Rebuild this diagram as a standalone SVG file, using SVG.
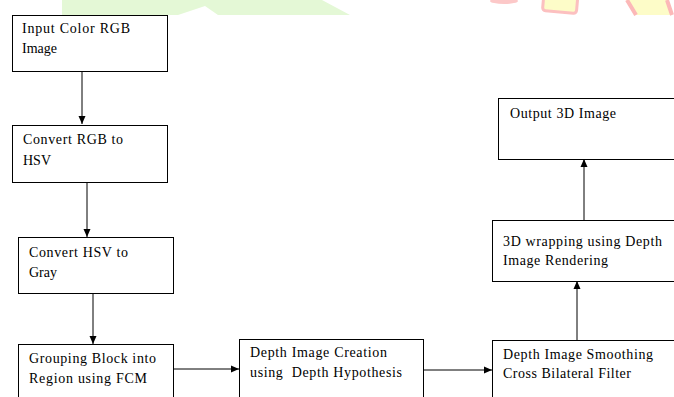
<svg xmlns="http://www.w3.org/2000/svg" width="674" height="397" viewBox="0 0 674 397">
<style>
.box{fill:#fff;stroke:#000;stroke-width:1}
.t{font-family:'Liberation Serif','Times New Roman',serif;font-size:14px;fill:#000}
.c{stroke:#000;stroke-width:1;fill:none}
</style>
<defs>
<marker id="ah" viewBox="0 0 8 8" refX="8" refY="4" markerWidth="8" markerHeight="8" markerUnits="userSpaceOnUse" orient="auto">
<path d="M0,0.5 L8,4 L0,7.5 z" fill="#000"/>
</marker>
</defs>
<rect width="674" height="397" fill="#fff"/>
<g id="watermark">
<polygon points="62,0 322,0 350,15 218,15 205,6 178,15 62,15" fill="#e4f8d6"/>
<ellipse cx="504" cy="1" rx="14" ry="3" fill="#fcc8c8"/>
<rect x="543" y="-4" width="34" height="16" rx="3" fill="#fdfcc8" stroke="#fcc0c0" stroke-width="3" transform="rotate(5 560 5)"/>
<polygon points="626,0 667,0 672,15 636,15" fill="#fdfcc8"/>
<path d="M627,0 L636,15 M667,0 L672,15" stroke="#fcb8b8" stroke-width="4" fill="none"/>
</g>
<g id="connectors">
<line class="c" x1="82" y1="71" x2="82" y2="124" marker-end="url(#ah)"/>
<line class="c" x1="87" y1="182" x2="87" y2="237" marker-end="url(#ah)"/>
<line class="c" x1="93" y1="293" x2="93" y2="344" marker-end="url(#ah)"/>
<line class="c" x1="173" y1="369" x2="239" y2="369" marker-end="url(#ah)"/>
<line class="c" x1="423" y1="370" x2="492" y2="370" marker-end="url(#ah)"/>
<line class="c" x1="577" y1="340" x2="577" y2="281" marker-end="url(#ah)"/>
<line class="c" x1="584" y1="220" x2="584" y2="159" marker-end="url(#ah)"/>
</g>
<g id="n1"><rect class="box" x="12.5" y="15.5" width="155" height="56"/>
<text class="t" x="22" y="33" textLength="108" lengthAdjust="spacing">Input Color RGB</text>
<text class="t" x="22" y="53">Image</text></g>
<g id="n2"><rect class="box" x="12.5" y="125.5" width="155" height="57"/>
<text class="t" x="23" y="144" textLength="100" lengthAdjust="spacing">Convert RGB to</text>
<text class="t" x="23" y="165">HSV</text></g>
<g id="n3"><rect class="box" x="18.5" y="237.5" width="155" height="56"/>
<text class="t" x="29" y="257" textLength="99" lengthAdjust="spacing">Convert HSV to</text>
<text class="t" x="29" y="277">Gray</text></g>
<g id="n4"><rect class="box" x="18.5" y="344.5" width="155" height="70"/>
<text class="t" x="29" y="363" textLength="127" lengthAdjust="spacing">Grouping Block into</text>
<text class="t" x="29" y="383" textLength="118" lengthAdjust="spacing">Region using FCM</text></g>
<g id="n5"><rect class="box" x="239.5" y="339.5" width="184" height="70"/>
<text class="t" x="250" y="357" textLength="137" lengthAdjust="spacing">Depth Image Creation</text>
<text class="t" x="250" y="377" textLength="152" lengthAdjust="spacing" xml:space="preserve">using  Depth Hypothesis</text></g>
<g id="n6"><rect class="box" x="492.5" y="340.5" width="190" height="70"/>
<text class="t" x="503" y="359" textLength="150" lengthAdjust="spacing">Depth Image Smoothing</text>
<text class="t" x="503" y="378" textLength="128" lengthAdjust="spacing">Cross Bilateral Filter</text></g>
<g id="n7"><rect class="box" x="492.5" y="220.5" width="190" height="61"/>
<text class="t" x="503" y="246" textLength="159" lengthAdjust="spacing">3D wrapping using Depth</text>
<text class="t" x="503" y="265" textLength="105" lengthAdjust="spacing">Image Rendering</text></g>
<g id="n8"><rect class="box" x="498.5" y="98.5" width="190" height="61"/>
<text class="t" x="510" y="118" textLength="106" lengthAdjust="spacing">Output 3D Image</text></g>
</svg>
